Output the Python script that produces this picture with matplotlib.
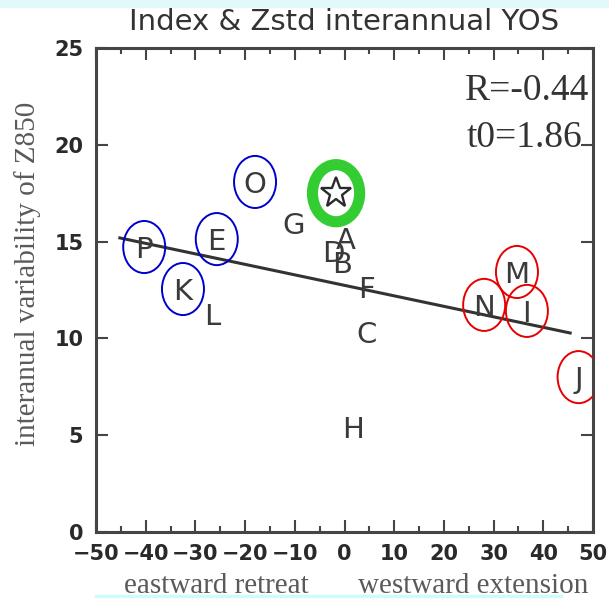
import numpy as np
import matplotlib.pyplot as plt
from matplotlib.patches import Ellipse, Rectangle

# index (x) vs interannual std of Z850 (y) for each case
case_names = ['A', 'B', 'C', 'D', 'E', 'F', 'G', 'H',
              'I', 'J', 'K', 'L', 'M', 'N', 'O', 'P']
index_x = [0.3, -0.5, 4.5, -2.3, -25.7, 4.5, -10.2, 1.7,
           36.7, 47.1, -32.5, -26.7, 34.7, 28.1, -18.0, -40.3]
zstd_y = [15.2, 13.95, 10.33, 14.5, 15.13, 12.66, 15.96, 5.42,
          11.42, 8.0, 12.55, 11.26, 13.43, 11.73, 18.08, 14.72]

# ensemble mean marker
star_x, star_y = -1.7, 17.5

# highlighted groups
retreat_cases = ['O', 'E', 'P', 'K']
extension_cases = ['M', 'N', 'I', 'J']

# linear fit
fit_range = [-45.2, 45.4]
fit_slope = -0.0542
fit_intercept = 12.74
r_value = -0.44
t0_value = 1.86

W, H = 609, 598
fig = plt.figure(figsize=(W / 100, H / 100), dpi=100)

# pale cyan bands from the slide frame
fig.patches.append(Rectangle((0, 1 - 7 / H), 1, 7 / H, transform=fig.transFigure,
                             color='#e2f9fb', zorder=0))
fig.patches.append(Rectangle((95 / W, 0), (562 - 95) / W, 3 / H, transform=fig.transFigure,
                             color='#ccfdfd', zorder=0))

ax = fig.add_axes([96 / W, 66 / H, (593 - 96) / W, (532 - 48) / H])
ax.set_xlim(-50, 50)
ax.set_ylim(0, 25)

dark = '#3a3a3a'
for s in ax.spines.values():
    s.set_linewidth(2.2)
    s.set_color('#454545')

ax.set_xticks(np.arange(-50, 51, 10))
ax.set_xticks(np.arange(-45, 50, 10), minor=True)
ax.set_yticks(np.arange(0, 26, 5))
ax.tick_params(which='both', direction='in', top=True, right=True,
               color='#454545', width=1.5)
ax.tick_params(which='major', length=8.6, pad=9, labelsize=15, labelcolor='#2a2a2a')
ax.tick_params(which='minor', length=4.3)
for lab in ax.get_xticklabels() + ax.get_yticklabels():
    lab.set_fontweight('bold')
    lab.set_family('DejaVu Sans')

# regression line
fx = np.array(fit_range)
ax.plot(fx, fit_intercept + fit_slope * fx, color='#333333', lw=2.2, zorder=2)

# case letters
for name, x, y in zip(case_names, index_x, zstd_y):
    ax.text(x, y, name, ha='center', va='center_baseline', fontsize=21,
            color=dark, family='DejaVu Sans', zorder=3)
    if name in retreat_cases or name in extension_cases:
        col = '#0000cc' if name in retreat_cases else '#e60000'
        ax.add_patch(Ellipse((x, y), 8.45, 2.69, fill=False, ec=col, lw=1.4, zorder=4))

# ensemble star with green ring
ax.plot(star_x, star_y, marker='*', markersize=23, mfc='none', mec='#2a2a2a',
        mew=1.7, zorder=3)
ax.add_patch(Ellipse((star_x, star_y), 9.5, 2.95, fill=False, ec='#33cc33', lw=8, zorder=4))

fig.text(589 / W, 1 - 100 / H, f'R={r_value:.2f}', ha='right', va='baseline',
         fontsize=27, family='Liberation Serif', color='#333333')
fig.text(582 / W, 1 - 147 / H, f't0={t0_value:.2f}', ha='right', va='baseline',
         fontsize=27, family='Liberation Serif', color='#333333')

fig.text(344.5 / W, 1 - 30 / H, 'Index & Zstd interannual YOS', ha='center',
         va='baseline', fontsize=21, color='#333333', family='DejaVu Sans')

fig.text(28 / W, 1 - 274 / H, 'interanual variability of Z850', rotation=90,
         ha='center', va='center', fontsize=21, family='Liberation Serif', color='#5a5a5a')
fig.text(124 / W, 5 / H, 'eastward retreat', ha='left', va='baseline',
         fontsize=21, family='Liberation Serif', color='#5a5a5a')
fig.text(588 / W, 5 / H, 'westward extension', ha='right', va='baseline',
         fontsize=21, family='Liberation Serif', color='#5a5a5a')

fig.savefig('out.png', dpi=100, facecolor='white')
